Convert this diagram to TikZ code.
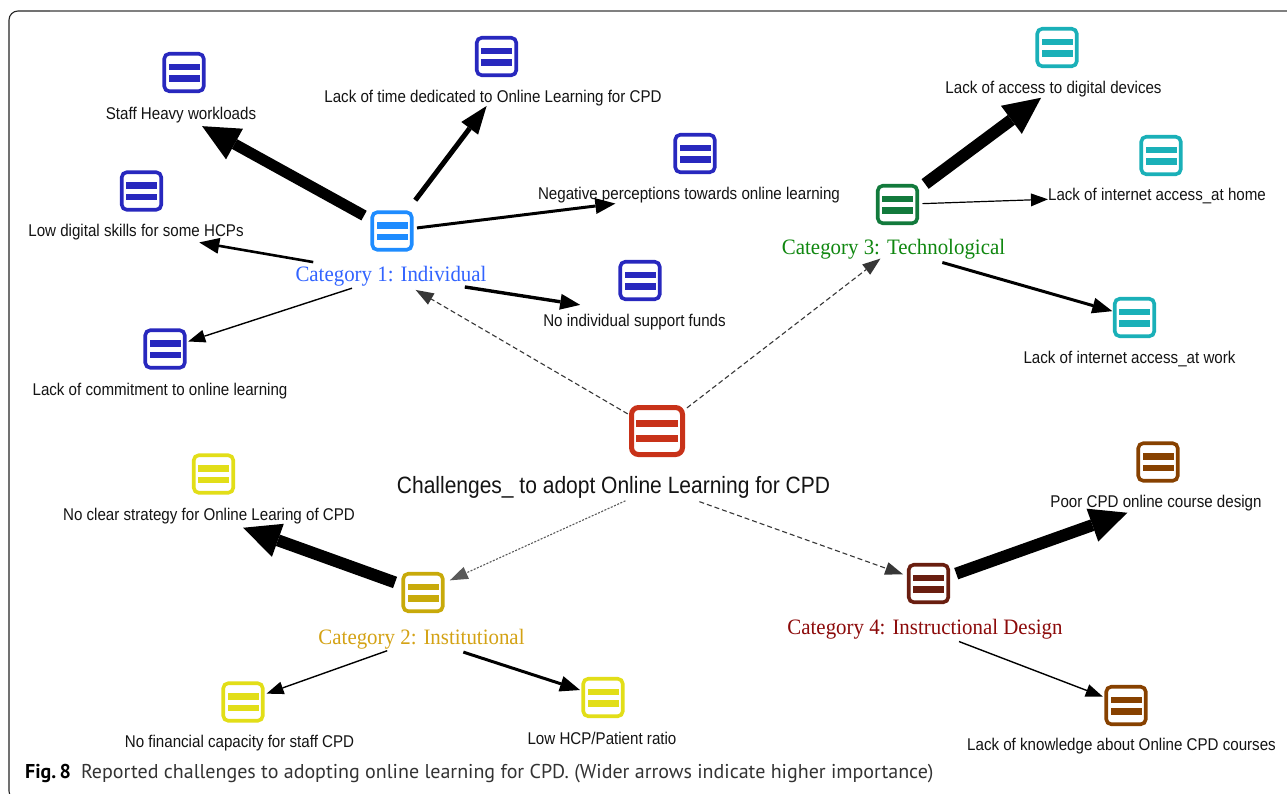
\documentclass[tikz,border=0pt]{standalone}
\usepackage{fontspec}
\usetikzlibrary{arrows.meta}
\newfontfamily\leaffont[FakeStretch=0.89]{Liberation Sans}
\newfontfamily\catfont[FakeStretch=0.95]{Liberation Serif}
\newfontfamily\capfont{PT Sans}
\definecolor{cOneLeaf}{RGB}{40,40,190}
\definecolor{cOne}{RGB}{30,140,255}
\definecolor{cOneTxt}{RGB}{50,100,255}
\definecolor{cTwoLeaf}{RGB}{226,222,24}
\definecolor{cTwo}{RGB}{200,170,10}
\definecolor{cTwoTxt}{RGB}{212,162,20}
\definecolor{cThreeLeaf}{RGB}{26,176,184}
\definecolor{cThree}{RGB}{18,122,60}
\definecolor{cThreeTxt}{RGB}{15,135,15}
\definecolor{cFourLeaf}{RGB}{135,65,0}
\definecolor{cFour}{RGB}{105,30,16}
\definecolor{cFourTxt}{RGB}{140,10,10}
\definecolor{cMain}{RGB}{200,50,25}
\definecolor{dashc}{RGB}{55,55,55}
\definecolor{dotc}{RGB}{90,90,90}
\tikzset{
  icon/.style={draw=#1, fill=white, line width=3.6pt, rounded corners=5pt,
    minimum width=39.5pt, minimum height=37.5pt, inner sep=0pt, outer sep=0pt,
    path picture={
      \fill[#1, sharp corners] ([shift={(-15.5pt,2.5pt)}]path picture bounding box.center) rectangle ++(31pt,6.5pt);
      \fill[#1, sharp corners] ([shift={(-15.5pt,-9pt)}]path picture bounding box.center) rectangle ++(31pt,6.5pt);}},
  bigicon/.style={draw=#1, fill=white, line width=5pt, rounded corners=7pt,
    minimum width=51pt, minimum height=47pt, inner sep=0pt, outer sep=0pt,
    path picture={
      \fill[#1, sharp corners] ([shift={(-21pt,3.6pt)}]path picture bounding box.center) rectangle ++(42pt,7.5pt);
      \fill[#1, sharp corners] ([shift={(-21pt,-11.1pt)}]path picture bounding box.center) rectangle ++(42pt,7.5pt);}},
  lbl/.style={font=\leaffont\fontsize{17}{19}\selectfont, text height=12.5pt, text depth=3.5pt, inner sep=0pt, text=black!92},
  catl/.style={font=\catfont\fontsize{22}{24}\selectfont, text height=15.5pt, text depth=4.5pt, inner sep=0pt},
  mainl/.style={font=\leaffont\fontsize{23.6}{26}\selectfont, text height=18pt, text depth=5pt, inner sep=0pt, text=black!92},
  conn/.style={draw=black, line join=miter},
  heavy/.style={conn, line width=11pt, -{Triangle[length=37pt,width=35pt,line width=0pt]}},
  medium/.style={conn, line width=5pt, -{Triangle[length=28pt,width=21pt,line width=0pt]}},
  light/.style={conn, line width=3pt, -{Triangle[length=20pt,width=16pt,line width=0pt]}},
  thin/.style={conn, line width=1.4pt, -{Triangle[length=17pt,width=13pt,line width=0pt]}},
  dsh/.style={draw=dashc, line width=1.1pt, dash pattern=on 5pt off 3pt, -{Triangle[length=18pt,width=13pt,line width=0pt,fill=dashc]}},
  dtt/.style={draw=dotc, line width=1.1pt, dash pattern=on 2pt off 1.5pt, -{Triangle[length=18pt,width=13pt,line width=0pt,fill=dotc]}}
}
\begin{document}
\begin{tikzpicture}[x=1pt,y=-1pt]
\useasboundingbox (0,0) rectangle (1287,793);
\fill[white] (0,0) rectangle (1287,793);
% frame
\draw[black!85, line width=1.1pt, rounded corners=9pt] (60,11) -- (9,11) -- (9,800) -- (60,800);
\draw[gray, line width=1.5pt] (50,11) -- (1295,11);

% central node
\node[bigicon=cMain] (CI) at (657,431) {};
\node[mainl] (centerL) at (613.5,486.5) {Challenges\_ to adopt Online Learning for CPD};
\coordinate (hub) at (CI |- centerL);

% category nodes
\node[icon=cOne] (C1) at (392,231) {};
\node[catl, text=cOneTxt] (cat1L) at (391,275.5) {Category 1: Individual};
\node[icon=cTwo] (C2) at (423,592.5) {};
\node[catl, text=cTwoTxt] (cat2L) at (421.5,638.5) {Category 2: Institutional};
\node[icon=cThree] (C3) at (897.5,204.5) {};
\node[catl, text=cThreeTxt] (cat3L) at (893.5,248.5) {Category 3: Technological};
\node[icon=cFour] (C4) at (928.5,583.5) {};
\node[catl, text=cFourTxt] (cat4L) at (925,628.5) {Category 4: Instructional Design};

% category 1 leaves
\node[icon=cOneLeaf] (staffI) at (184,72.5) {};
\node[lbl] (staffL) at (181,114.5) {Staff Heavy workloads};
\node[icon=cOneLeaf] (timeI) at (496.5,56.5) {};
\node[lbl] (timeL) at (493,97.5) {Lack of time dedicated to Online Learning for CPD};
\node[icon=cOneLeaf] (negI) at (695,153.5) {};
\node[lbl] (negL) at (689,194.5) {Negative perceptions towards online learning};
\node[icon=cOneLeaf] (lowI) at (141.5,191) {};
\node[lbl] (lowL) at (136,231.5) {Low digital skills for some HCPs};
\node[icon=cOneLeaf] (fundsI) at (640,280.5) {};
\node[lbl] (fundsL) at (634.5,321.5) {No individual support funds};
\node[icon=cOneLeaf] (commitI) at (165,349) {};
\node[lbl] (commitL) at (160,390.5) {Lack of commitment to online learning};

% category 2 leaves
\node[icon=cTwoLeaf] (stratI) at (213.5,474) {};
\node[lbl] (stratL) at (209,515.5) {No clear strategy for Online Learing of CPD};
\node[icon=cTwoLeaf] (finI) at (243,702) {};
\node[lbl] (finL) at (239.5,742.5) {No financial capacity for staff CPD};
\node[icon=cTwoLeaf] (hcpI) at (603,697.5) {};
\node[lbl] (hcpL) at (602,739.5) {Low HCP/Patient ratio};

% category 3 leaves
\node[icon=cThreeLeaf] (devI) at (1057,47.5) {};
\node[lbl] (devL) at (1053.5,88.5) {Lack of access to digital devices};
\node[icon=cThreeLeaf] (homeI) at (1161,155.5) {};
\node[lbl] (homeL) at (1157,195.5) {Lack of internet access\_at home};
\node[icon=cThreeLeaf] (workI) at (1134.5,317.5) {};
\node[lbl] (workL) at (1129.5,358.5) {Lack of internet access\_at work};

% category 4 leaves
\node[icon=cFourLeaf] (poorI) at (1158,462) {};
\node[lbl] (poorL) at (1156,502.5) {Poor CPD online course design};
\node[icon=cFourLeaf] (knowI) at (1126,705.5) {};
\node[lbl] (knowL) at (1121.5,745.5) {Lack of knowledge about Online CPD courses};

% connectors from the centre
\draw[dsh, shorten <=33.9pt, shorten >=28.6pt] (CI.center) -- (cat1L.center);
\draw[dsh, shorten <=37.8pt, shorten >=16.5pt] (CI.center) -- (cat3L.center);
\draw[dtt, shorten <=34.7pt, shorten >=29.5pt] (hub) -- (C2.center);
\draw[dsh, shorten <=45pt, shorten >=26.9pt] (hub) -- (C4.center);

% category 1 connectors
\draw[heavy, shorten <=31.9pt, shorten >=24.1pt] (C1.center) -- (staffL.center);
\draw[medium, shorten <=38.6pt, shorten >=10.6pt] (C1.center) -- (timeL.center);
\draw[light, shorten <=25.2pt, shorten >=74.2pt] (C1.center) -- (negL.center);
\draw[light, line width=2.6pt, shorten <=78.9pt, shorten >=64.2pt] (cat1L.center) -- (lowL.center);
\draw[light, line width=3.4pt, shorten <=74.7pt, shorten >=55pt] (cat1L.center) -- (fundsL.north);
\draw[thin, shorten <=41pt, shorten >=24.4pt] (cat1L.center) -- (commitI.center);

% category 3 connectors
\draw[heavy, line width=12pt, shorten <=34.4pt, shorten >=15.5pt] (C3.center) -- (devL.center);
\draw[thin, line width=1.2pt, shorten <=25pt, shorten >=109.1pt] (C3.center) -- (homeL.center);
\draw[light, shorten <=50.8pt, shorten >=23.1pt] (cat3L.center) -- (workI.center);

% category 2 connectors
\draw[heavy, line width=12pt, shorten <=29.7pt, shorten >=36.2pt] (C2.center) -- (stratL.center);
\draw[thin, shorten <=36.4pt, shorten >=25pt] (cat2L.center) -- (finI.center);
\draw[light, shorten <=44pt, shorten >=24.2pt] (cat2L.center) -- (hcpI.center);

% category 4 connectors
\draw[heavy, line width=12pt, shorten <=29.4pt, shorten >=30.5pt] (C4.center) -- (poorL.center);
\draw[thin, shorten <=36.4pt, shorten >=24.9pt] (cat4L.center) -- (knowI.center);

% caption
\node[anchor=base west, inner sep=0pt, font=\capfont\fontsize{20}{22}\selectfont, text=black!80] (caption) at (25,778.5)
  {\textbf{\color{black}Fig.\,8}\hspace{10pt}Reported challenges to adopting online learning for CPD. (Wider arrows indicate higher importance)};
\end{tikzpicture}
\end{document}
